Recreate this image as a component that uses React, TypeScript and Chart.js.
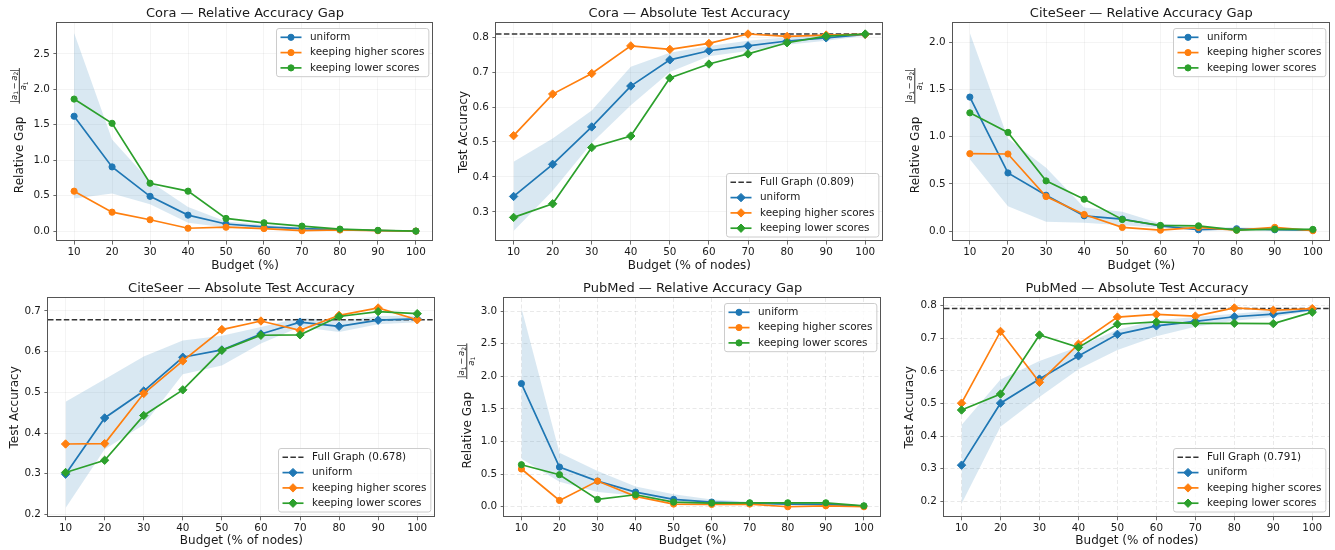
import React, { useEffect, useRef } from 'react';
import { Chart, registerables } from 'chart.js';

Chart.register(...registerables);

const FONT = '"DejaVu Sans", "Liberation Sans", sans-serif';
const TEXT = '#1a1a1a';
const C_UNIFORM = '#1f77b4';
const C_HIGHER = '#ff7f0e';
const C_LOWER = '#2ca02c';
const C_FULL = 'rgba(0,0,0,0.8)';
const BAND = 'rgba(31,119,180,0.17)';

// ---------------- data ----------------
const BUDGET = [10, 20, 30, 40, 50, 60, 70, 80, 90, 100];
const X_TICKS = [10, 20, 30, 40, 50, 60, 70, 80, 90, 100];
const X_LIMITS = [5.5, 104.5];

// Cora — relative gap
const CORA_REL_UNIFORM = [1.62, 0.905, 0.49, 0.225, 0.10, 0.06, 0.035, 0.02, 0.008, 0.0];
const CORA_REL_HIGHER = [0.563, 0.267, 0.16, 0.04, 0.055, 0.035, 0.005, 0.015, 0.005, 0.0];
const CORA_REL_LOWER = [1.862, 1.52, 0.675, 0.563, 0.178, 0.117, 0.07, 0.028, 0.01, 0.0];
const CORA_REL_BAND_HI = [2.795, 1.29, 0.70, 0.34, 0.135, 0.09, 0.05, 0.03, 0.015, 0.005];
const CORA_REL_BAND_LO = [0.46, 0.53, 0.38, 0.117, 0.05, 0.03, 0.02, 0.01, 0.003, 0.0];
const Y_TICKS_CORA_REL = [0.0, 0.5, 1.0, 1.5, 2.0, 2.5];
const Y_LIMITS_CORA_REL = [-0.14, 2.935];

// Cora — absolute accuracy
const CORA_ABS_UNIFORM = [0.344, 0.436, 0.543, 0.660, 0.735, 0.761, 0.775, 0.789, 0.798, 0.808];
const CORA_ABS_HIGHER = [0.518, 0.637, 0.696, 0.775, 0.765, 0.782, 0.809, 0.802, 0.806, 0.808];
const CORA_ABS_LOWER = [0.284, 0.323, 0.484, 0.517, 0.683, 0.723, 0.752, 0.784, 0.803, 0.809];
const CORA_ABS_BAND_HI = [0.443, 0.51, 0.59, 0.715, 0.755, 0.775, 0.79, 0.80, 0.806, 0.812];
const CORA_ABS_BAND_LO = [0.245, 0.36, 0.497, 0.605, 0.70, 0.745, 0.76, 0.778, 0.79, 0.804];
const CORA_FULL = 0.809;
const Y_TICKS_CORA_ABS = [0.3, 0.4, 0.5, 0.6, 0.7, 0.8];
const Y_LIMITS_CORA_ABS = [0.2165, 0.8405];

// CiteSeer — relative gap
const CITESEER_REL_UNIFORM = [1.42, 0.616, 0.38, 0.162, 0.127, 0.056, 0.014, 0.025, 0.014, 0.01];
const CITESEER_REL_HIGHER = [0.82, 0.817, 0.366, 0.176, 0.039, 0.01, 0.039, 0.01, 0.039, 0.004];
const CITESEER_REL_LOWER = [1.253, 1.046, 0.532, 0.338, 0.123, 0.06, 0.056, 0.01, 0.02, 0.018];
const CITESEER_REL_BAND_HI = [2.10, 0.98, 0.67, 0.25, 0.205, 0.08, 0.04, 0.04, 0.03, 0.02];
const CITESEER_REL_BAND_LO = [0.76, 0.264, 0.10, 0.088, 0.063, 0.035, 0.005, 0.01, 0.0, 0.005];
const Y_TICKS_CITESEER_REL = [0.0, 0.5, 1.0, 1.5, 2.0];
const Y_LIMITS_CITESEER_REL = [-0.105, 2.205];

// CiteSeer — absolute accuracy
const CITESEER_ABS_UNIFORM = [0.299, 0.437, 0.503, 0.586, 0.604, 0.643, 0.672, 0.662, 0.677, 0.680];
const CITESEER_ABS_HIGHER = [0.373, 0.374, 0.497, 0.577, 0.654, 0.675, 0.652, 0.689, 0.707, 0.678];
const CITESEER_ABS_LOWER = [0.303, 0.333, 0.443, 0.506, 0.603, 0.640, 0.641, 0.686, 0.698, 0.693];
const CITESEER_ABS_BAND_HI = [0.477, 0.532, 0.588, 0.627, 0.639, 0.66, 0.683, 0.675, 0.687, 0.688];
const CITESEER_ABS_BAND_LO = [0.216, 0.36, 0.42, 0.544, 0.566, 0.62, 0.66, 0.648, 0.667, 0.672];
const CITESEER_FULL = 0.678;
const Y_TICKS_CITESEER_ABS = [0.2, 0.3, 0.4, 0.5, 0.6, 0.7];
const Y_LIMITS_CITESEER_ABS = [0.1945, 0.7315];

// PubMed — relative gap
const PUBMED_REL_UNIFORM = [1.89, 0.609, 0.394, 0.225, 0.113, 0.072, 0.056, 0.041, 0.036, 0.01];
const PUBMED_REL_HIGHER = [0.579, 0.097, 0.394, 0.159, 0.041, 0.036, 0.041, 0.0, 0.015, 0.0];
const PUBMED_REL_LOWER = [0.645, 0.492, 0.113, 0.184, 0.072, 0.056, 0.061, 0.061, 0.061, 0.015];
const PUBMED_REL_BAND_HI = [3.05, 0.83, 0.548, 0.312, 0.19, 0.11, 0.075, 0.06, 0.05, 0.02];
const PUBMED_REL_BAND_LO = [0.737, 0.384, 0.225, 0.174, 0.07, 0.04, 0.04, 0.025, 0.02, 0.0];
const Y_TICKS_PUBMED_REL = [0.0, 0.5, 1.0, 1.5, 2.0, 2.5, 3.0];
const Y_LIMITS_PUBMED_REL = [-0.1525, 3.2025];

// PubMed — absolute accuracy
const PUBMED_ABS_UNIFORM = [0.311, 0.501, 0.575, 0.646, 0.712, 0.738, 0.752, 0.766, 0.774, 0.788];
const PUBMED_ABS_HIGHER = [0.501, 0.721, 0.565, 0.682, 0.765, 0.773, 0.768, 0.793, 0.786, 0.791];
const PUBMED_ABS_LOWER = [0.480, 0.529, 0.710, 0.672, 0.743, 0.750, 0.746, 0.746, 0.745, 0.780];
const PUBMED_ABS_BAND_HI = [0.434, 0.574, 0.63, 0.674, 0.726, 0.755, 0.765, 0.775, 0.785, 0.793];
const PUBMED_ABS_BAND_LO = [0.193, 0.429, 0.52, 0.605, 0.664, 0.706, 0.735, 0.754, 0.765, 0.784];
const PUBMED_FULL = 0.791;
const Y_TICKS_PUBMED_ABS = [0.2, 0.3, 0.4, 0.5, 0.6, 0.7, 0.8];
const Y_LIMITS_PUBMED_ABS = [0.153, 0.8235];

const SERIES_LABELS = ['uniform', 'keeping higher scores', 'keeping lower scores'];

// ---------------- panel tables (built from the arrays above) ----------------
type Panel = {
  title: string; rel: boolean; xLabel: string; yLabel: string;
  uniform: number[]; higher: number[]; lower: number[]; bandHi: number[]; bandLo: number[];
  full: number | null; yTicks: number[]; yLimits: number[]; dashedGrid: boolean;
};

const PANELS: Panel[] = [
  { title: 'Cora — Relative Accuracy Gap', rel: true, xLabel: 'Budget (%)', yLabel: 'Relative Gap',
    uniform: CORA_REL_UNIFORM, higher: CORA_REL_HIGHER, lower: CORA_REL_LOWER, bandHi: CORA_REL_BAND_HI, bandLo: CORA_REL_BAND_LO,
    full: null, yTicks: Y_TICKS_CORA_REL, yLimits: Y_LIMITS_CORA_REL, dashedGrid: false },
  { title: 'Cora — Absolute Test Accuracy', rel: false, xLabel: 'Budget (% of nodes)', yLabel: 'Test Accuracy',
    uniform: CORA_ABS_UNIFORM, higher: CORA_ABS_HIGHER, lower: CORA_ABS_LOWER, bandHi: CORA_ABS_BAND_HI, bandLo: CORA_ABS_BAND_LO,
    full: CORA_FULL, yTicks: Y_TICKS_CORA_ABS, yLimits: Y_LIMITS_CORA_ABS, dashedGrid: false },
  { title: 'CiteSeer — Relative Accuracy Gap', rel: true, xLabel: 'Budget (%)', yLabel: 'Relative Gap',
    uniform: CITESEER_REL_UNIFORM, higher: CITESEER_REL_HIGHER, lower: CITESEER_REL_LOWER, bandHi: CITESEER_REL_BAND_HI, bandLo: CITESEER_REL_BAND_LO,
    full: null, yTicks: Y_TICKS_CITESEER_REL, yLimits: Y_LIMITS_CITESEER_REL, dashedGrid: false },
  { title: 'CiteSeer — Absolute Test Accuracy', rel: false, xLabel: 'Budget (% of nodes)', yLabel: 'Test Accuracy',
    uniform: CITESEER_ABS_UNIFORM, higher: CITESEER_ABS_HIGHER, lower: CITESEER_ABS_LOWER, bandHi: CITESEER_ABS_BAND_HI, bandLo: CITESEER_ABS_BAND_LO,
    full: CITESEER_FULL, yTicks: Y_TICKS_CITESEER_ABS, yLimits: Y_LIMITS_CITESEER_ABS, dashedGrid: false },
  { title: 'PubMed — Relative Accuracy Gap', rel: true, xLabel: 'Budget (%)', yLabel: 'Relative Gap',
    uniform: PUBMED_REL_UNIFORM, higher: PUBMED_REL_HIGHER, lower: PUBMED_REL_LOWER, bandHi: PUBMED_REL_BAND_HI, bandLo: PUBMED_REL_BAND_LO,
    full: null, yTicks: Y_TICKS_PUBMED_REL, yLimits: Y_LIMITS_PUBMED_REL, dashedGrid: true },
  { title: 'PubMed — Absolute Test Accuracy', rel: false, xLabel: 'Budget (% of nodes)', yLabel: 'Test Accuracy',
    uniform: PUBMED_ABS_UNIFORM, higher: PUBMED_ABS_HIGHER, lower: PUBMED_ABS_LOWER, bandHi: PUBMED_ABS_BAND_HI, bandLo: PUBMED_ABS_BAND_LO,
    full: PUBMED_FULL, yTicks: Y_TICKS_PUBMED_ABS, yLimits: Y_LIMITS_PUBMED_ABS, dashedGrid: true },
];

type Layout = { left: number; top: number; width: number; height: number; plotLeft: number; padRight: number; xAxisH: number; yTitleX: number };

const LAYOUT: Layout[] = [
  { left: 0, top: 0, width: 438, height: 275, plotLeft: 57, padRight: 2, xAxisH: 34, yTitleX: 20.8 },
  { left: 445, top: 0, width: 443, height: 275, plotLeft: 51, padRight: 2, xAxisH: 34, yTitleX: 19.2 },
  { left: 890, top: 0, width: 445, height: 275, plotLeft: 62.7, padRight: 2.3, xAxisH: 34, yTitleX: 26.3 },
  { left: 0, top: 275, width: 440, height: 275, plotLeft: 48, padRight: 2.3, xAxisH: 33.3, yTitleX: 15.3 },
  { left: 445, top: 275, width: 441, height: 275, plotLeft: 59.3, padRight: 2.3, xAxisH: 33.3, yTitleX: 23.3 },
  { left: 890, top: 275, width: 445, height: 275, plotLeft: 54, padRight: 1, xAxisH: 33.3, yTitleX: 20.8 },
];

// ---------------- drawing helpers ----------------
function drawMarker(ctx: CanvasRenderingContext2D, style: string, x: number, y: number, r: number, color: string) {
  ctx.save();
  ctx.fillStyle = color;
  ctx.strokeStyle = color;
  ctx.lineWidth = 1;
  ctx.setLineDash([]);
  ctx.beginPath();
  if (style === 'circle') {
    ctx.arc(x, y, r, 0, Math.PI * 2);
  } else {
    ctx.moveTo(x - r, y);
    ctx.lineTo(x, y - r);
    ctx.lineTo(x + r, y);
    ctx.lineTo(x, y + r);
    ctx.closePath();
  }
  ctx.fill();
  ctx.stroke();
  ctx.restore();
}

type LegendItem = { label: string; color: string; dash?: number[]; marker?: string; r?: number };

function makeLegendPlugin(items: LegendItem[], loc: 'upper' | 'lower') {
  return {
    id: 'mplLegend',
    afterDraw(chart: any) {
      const ctx: CanvasRenderingContext2D = chart.ctx;
      const ca = chart.chartArea;
      const fs = 10.4;
      ctx.save();
      ctx.font = `${fs}px ${FONT}`;
      const textW = Math.max(...items.map((it) => ctx.measureText(it.label).width));
      const padL = 4, handle = 21, gap = 8.5, padR = 4.5, rowH = 15.3, edge = 8.8;
      const w = padL + handle + gap + textW + padR;
      const h = (items.length - 1) * rowH + 2 * edge;
      const x = Math.round(ca.right - 4.5 - w) + 0.5;
      const y = Math.round(loc === 'upper' ? ca.top + 5 : ca.bottom - 5 - h) + 0.5;
      const rr = 2.5;
      ctx.beginPath();
      ctx.moveTo(x + rr, y);
      ctx.lineTo(x + w - rr, y);
      ctx.quadraticCurveTo(x + w, y, x + w, y + rr);
      ctx.lineTo(x + w, y + h - rr);
      ctx.quadraticCurveTo(x + w, y + h, x + w - rr, y + h);
      ctx.lineTo(x + rr, y + h);
      ctx.quadraticCurveTo(x, y + h, x, y + h - rr);
      ctx.lineTo(x, y + rr);
      ctx.quadraticCurveTo(x, y, x + rr, y);
      ctx.closePath();
      ctx.fillStyle = 'rgba(255,255,255,0.8)';
      ctx.fill();
      ctx.strokeStyle = '#cccccc';
      ctx.lineWidth = 1;
      ctx.stroke();
      items.forEach((it, i) => {
        const cy = y + edge + i * rowH;
        const x0 = x + padL;
        const x1 = x0 + handle;
        ctx.save();
        ctx.strokeStyle = it.color;
        ctx.lineWidth = it.dash ? 1.5 : 1.7;
        ctx.setLineDash(it.dash || []);
        ctx.beginPath();
        ctx.moveTo(x0, cy);
        ctx.lineTo(x1, cy);
        ctx.stroke();
        ctx.restore();
        if (it.marker) drawMarker(ctx, it.marker, (x0 + x1) / 2, cy, it.r || 3, it.color);
        ctx.fillStyle = TEXT;
        ctx.textBaseline = 'middle';
        ctx.textAlign = 'left';
        ctx.font = `${fs}px ${FONT}`;
        ctx.fillText(it.label, x1 + gap, cy);
      });
      ctx.restore();
    },
  };
}

const framePlugin = {
  id: 'mplFrame',
  afterDatasetsDraw(chart: any) {
    const ctx: CanvasRenderingContext2D = chart.ctx;
    const a = chart.chartArea;
    const l = Math.round(a.left) - 0.5;
    const t = Math.round(a.top) - 0.5;
    const r = Math.round(a.right) - 0.5;
    const b = Math.round(a.bottom) - 0.5;
    ctx.save();
    ctx.strokeStyle = '#555555';
    ctx.lineWidth = 1;
    ctx.strokeRect(l, t, r - l, b - t);
    ctx.restore();
  },
};

type Run = { t?: string; it?: boolean; sub?: boolean; gap?: number };
const NUM_RUNS: Run[] = [
  { t: '|' }, { t: 'a', it: true }, { t: '1', sub: true }, { gap: 1.6 }, { t: '−' }, { gap: 1.6 },
  { t: 'a', it: true }, { t: '2', sub: true }, { t: '|' },
];
const DEN_RUNS: Run[] = [{ t: 'a', it: true }, { t: '1', sub: true }];

function runFont(r: Run) {
  const size = r.sub ? 6 : 8.5;
  return `${r.it ? 'italic ' : ''}${size}px ${FONT}`;
}
function runsWidth(ctx: CanvasRenderingContext2D, runs: Run[]) {
  let w = 0;
  for (const r of runs) {
    if (r.gap) { w += r.gap; continue; }
    ctx.font = runFont(r);
    w += ctx.measureText(r.t || '').width;
  }
  return w;
}
function drawRuns(ctx: CanvasRenderingContext2D, runs: Run[], x: number, y: number) {
  let cx = x;
  for (const r of runs) {
    if (r.gap) { cx += r.gap; continue; }
    ctx.font = runFont(r);
    ctx.fillText(r.t || '', cx, y + (r.sub ? 1.6 : 0));
    cx += ctx.measureText(r.t || '').width;
  }
}

const REL_PAD = '            ';

function makeFracPlugin(titleX: number, mainText: string, fullText: string) {
  return {
    id: 'mplFrac',
    afterDraw(chart: any) {
      const ctx: CanvasRenderingContext2D = chart.ctx;
      const ca = chart.chartArea;
      ctx.save();
      ctx.font = `12px ${FONT}`;
      const fullW = ctx.measureText(fullText).width;
      const mainW = ctx.measureText(mainText).width;
      const cy = (ca.top + ca.bottom) / 2;
      const fracBottom = cy + fullW / 2 - mainW - 13;
      const numW = runsWidth(ctx, NUM_RUNS);
      const denW = runsWidth(ctx, DEN_RUNS);
      const barW = Math.max(numW, denW) + 1.5;
      ctx.translate(titleX - 1.5, fracBottom);
      ctx.rotate(-Math.PI / 2);
      ctx.fillStyle = TEXT;
      ctx.fillRect(0, -0.45, barW, 0.9);
      ctx.textBaseline = 'alphabetic';
      ctx.textAlign = 'left';
      drawRuns(ctx, NUM_RUNS, (barW - numW) / 2, -2.8);
      drawRuns(ctx, DEN_RUNS, (barW - denW) / 2, 7);
      ctx.restore();
    },
  };
}

function buildConfig(p: Panel, lay: Layout): any {
  const marker = p.rel ? 'circle' : 'rectRot';
  const radius = p.rel ? 3.1 : 4.2;
  const pts = (arr: number[]) => BUDGET.map((b, i) => ({ x: b, y: arr[i] }));
  const series = (label: string, arr: number[], color: string, order: number) => ({
    label,
    data: pts(arr),
    borderColor: color,
    backgroundColor: color,
    borderWidth: 1.7,
    pointStyle: marker,
    pointRadius: radius,
    pointBorderWidth: 1,
    pointBackgroundColor: color,
    pointBorderColor: color,
    fill: false,
    order,
  });
  const datasets: any[] = [
    { label: 'band-lo', data: pts(p.bandLo), borderWidth: 0, borderColor: 'rgba(0,0,0,0)', pointRadius: 0, fill: false, order: 20 },
    { label: 'band-hi', data: pts(p.bandHi), borderWidth: 0, borderColor: 'rgba(0,0,0,0)', pointRadius: 0, fill: 0, backgroundColor: BAND, order: 20 },
  ];
  const legendItems: LegendItem[] = [];
  if (p.full !== null) {
    const lbl = `Full Graph (${p.full.toFixed(3)})`;
    datasets.push({
      label: lbl,
      data: [{ x: X_LIMITS[0], y: p.full }, { x: X_LIMITS[1], y: p.full }],
      borderColor: C_FULL, borderWidth: 1.5, borderDash: [5.5, 2.4], pointRadius: 0, fill: false, order: 10,
    });
    legendItems.push({ label: lbl, color: C_FULL, dash: [5.5, 2.4] });
  }
  const colors = [C_UNIFORM, C_HIGHER, C_LOWER];
  const vals = [p.uniform, p.higher, p.lower];
  SERIES_LABELS.forEach((lbl, i) => {
    datasets.push(series(lbl, vals[i], colors[i], 3 - i));
    legendItems.push({ label: lbl, color: colors[i], marker: p.rel ? 'circle' : 'diamond', r: radius });
  });

  const gridColor = p.dashedGrid ? 'rgba(0,0,0,0.11)' : 'rgba(0,0,0,0.06)';
  const gridDash = p.dashedGrid ? [4, 2.5] : [];
  const yTitleText = p.rel ? p.yLabel + REL_PAD : p.yLabel;

  const plugins: any[] = [framePlugin, makeLegendPlugin(legendItems, p.rel ? 'upper' : 'lower')];
  if (p.rel) plugins.push(makeFracPlugin(lay.yTitleX, p.yLabel, yTitleText));

  return {
    type: 'line',
    data: { datasets },
    plugins,
    options: {
      responsive: false,
      animation: false,
      devicePixelRatio: 1,
      events: [],
      layout: { padding: { left: 0, right: lay.padRight, top: 0, bottom: 0 } },
      plugins: {
        legend: { display: false },
        tooltip: { enabled: false },
        title: {
          display: true,
          fullSize: false,
          text: p.title,
          color: TEXT,
          font: { family: FONT, size: 13, weight: 'normal' },
          padding: { top: 6, bottom: 1.4 },
        },
      },
      scales: {
        x: {
          type: 'linear',
          min: X_LIMITS[0],
          max: X_LIMITS[1],
          bounds: 'data',
          afterBuildTicks: (s: any) => { s.ticks = X_TICKS.map((v) => ({ value: v })); },
          afterFit: (s: any) => { s.height = lay.xAxisH; },
          ticks: {
            color: TEXT, font: { family: FONT, size: 10.4 }, padding: 1.5, maxRotation: 0, autoSkip: false,
            callback: (v: any) => String(v),
          },
          grid: { color: gridColor, lineWidth: 0.8, tickLength: 3.6, tickColor: '#444444', tickWidth: 0.8 },
          border: { display: false, dash: gridDash },
          title: {
            display: true, text: p.xLabel, color: TEXT,
            font: { family: FONT, size: 12 }, padding: { top: 0, bottom: 1.5 },
          },
        },
        y: {
          type: 'linear',
          min: p.yLimits[0],
          max: p.yLimits[1],
          bounds: 'data',
          afterBuildTicks: (s: any) => { s.ticks = p.yTicks.map((v) => ({ value: v })); },
          afterFit: (s: any) => { s.width = lay.plotLeft; },
          ticks: {
            color: TEXT, font: { family: FONT, size: 10.4 }, padding: 3.5, autoSkip: false,
            callback: (v: any) => Number(v).toFixed(1),
          },
          grid: { color: gridColor, lineWidth: 0.8, tickLength: 3.6, tickColor: '#444444', tickWidth: 0.8 },
          border: { display: false, dash: gridDash },
          title: {
            display: true, text: yTitleText, color: TEXT,
            font: { family: FONT, size: 12 }, padding: { top: lay.yTitleX - 8, bottom: 0 },
          },
        },
      },
    },
  };
}

function PanelChart({ panel, layout }: { panel: Panel; layout: Layout }) {
  const ref = useRef<HTMLCanvasElement>(null);
  useEffect(() => {
    if (!ref.current) return;
    const chart = new Chart(ref.current, buildConfig(panel, layout));
    return () => chart.destroy();
  }, [panel, layout]);
  return (
    <canvas
      ref={ref}
      width={layout.width}
      height={layout.height}
      style={{ position: 'absolute', left: layout.left, top: layout.top, width: layout.width, height: layout.height }}
    />
  );
}

export default function App() {
  return (
    <div style={{ position: 'absolute', left: 0, top: 0, width: 1335, height: 550, background: '#ffffff', overflow: 'hidden' }}>
      {PANELS.map((p, i) => (
        <PanelChart key={i} panel={p} layout={LAYOUT[i]} />
      ))}
    </div>
  );
}
